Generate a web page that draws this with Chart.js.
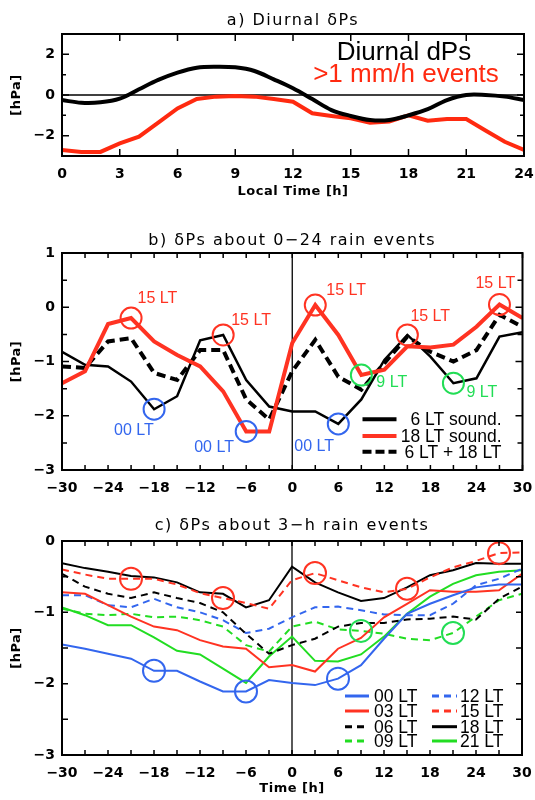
<!DOCTYPE html>
<html>
<head>
<meta charset="utf-8">
<script src="https://cdn.jsdelivr.net/npm/chart.js@4.4.1/dist/chart.umd.min.js"></script>
<style>
  body { margin: 0; background: #fff; width: 535px; height: 800px; overflow: hidden; position: relative; }
  canvas { position: absolute; left: 0; }
</style>
</head>
<body>
<canvas id="panelA" width="535" height="210" style="top:0px"></canvas>
<canvas id="panelB" width="535" height="295" style="top:210px"></canvas>
<canvas id="panelC" width="535" height="295" style="top:505px"></canvas>
<script>
// ---------- data: a) diurnal dPs ----------
const localHours = [0, 1, 2, 3, 4, 5, 6, 7, 8, 9, 10, 11, 12, 13, 14, 15, 16, 17, 18, 19, 20, 21, 22, 23, 24];
const diurnalDPs = [-0.25, -0.38, -0.36, -0.18, 0.28, 0.74, 1.1, 1.34, 1.39, 1.36, 1.18, 0.77, 0.33,
  -0.2, -0.74, -1.03, -1.23, -1.23, -1.0, -0.7, -0.25, 0.0, 0.0, -0.08, -0.25];
const rainEventDPs = [-2.7, -2.8, -2.8, -2.38, -2.05, -1.36, -0.66, -0.2, -0.08, -0.05, -0.08, -0.2, -0.33,
  -0.9, -1.03, -1.15, -1.36, -1.3, -1.0, -1.26, -1.18, -1.18, -1.75, -2.3, -2.7];
const hourTicksA = [0, 3, 6, 9, 12, 15, 18, 21, 24];
const pressTicksA = [-2, 0, 2];

// ---------- data: b) dPs about 0-24 rain events ----------
const lagHours = [-30, -27, -24, -21, -18, -15, -12, -9, -6, -3, 0, 3, 6, 9, 12, 15, 18, 21, 24, 27, 30];
const sound6 = [-0.82, -1.06, -1.09, -1.37, -1.88, -1.64, -0.61, -0.51, -1.34, -1.83, -1.92, -1.92, -2.15,
  -1.7, -0.97, -0.51, -0.91, -1.4, -1.31, -0.54, -0.46];
const sound18 = [-1.4, -1.18, -0.31, -0.2, -0.63, -0.88, -1.09, -1.55, -2.29, -2.29, -0.66, 0.04, -0.51,
  -1.25, -1.15, -0.72, -0.74, -0.69, -0.36, 0.05, -0.2];
const sound6and18 = [-1.09, -1.12, -0.63, -0.57, -1.21, -1.34, -0.79, -0.79, -1.7, -2.07, -1.18, -0.6, -1.28,
  -1.52, -1.03, -0.54, -0.82, -1.0, -0.79, -0.14, -0.36];
// circled points: lag hour + which sounding series it sits on
const peak15Lags = [-21, -9, 3, 15, 27];
const peak15On = ['s18', 's6', 's18', 's6', 's18'];
const low00Lags = [-18, -6, 6];
const low00On = ['s6', 's18', 's6'];
const mark9Lags = [9, 21];
const mark9On = ['s18', 's6'];
const lagTicks = [-30, -24, -18, -12, -6, 0, 6, 12, 18, 24, 30];
const pressTicksB = [-3, -2, -1, 0, 1];

// ---------- data: c) dPs about 3-h rain events ----------
const c00 = [-1.45, -1.51, -1.58, -1.65, -1.82, -1.82, -1.97, -2.11, -2.11, -1.95, -1.99, -2.02, -1.93,
  -1.74, -1.37, -1.02, -0.88, -0.76, -0.65, -0.61, -0.61];
const c03 = [-0.72, -0.74, -0.9, -1.06, -1.2, -1.25, -1.39, -1.48, -1.51, -1.77, -1.74, -1.83, -1.51,
  -1.36, -1.07, -0.88, -0.69, -0.71, -0.71, -0.69, -0.46];
const c06 = [-0.46, -0.64, -0.74, -0.8, -0.72, -0.8, -0.87, -1.0, -1.3, -1.58, -1.46, -1.37, -1.2,
  -1.15, -1.15, -1.1, -1.09, -1.06, -1.1, -0.81, -0.64];
const c09 = [-0.95, -1.02, -1.04, -1.02, -1.07, -1.06, -1.11, -1.2, -1.46, -1.55, -1.2, -1.13, -1.24,
  -1.26, -1.3, -1.37, -1.39, -1.29, -1.06, -0.83, -0.74];
const c12 = [-0.76, -0.76, -0.9, -0.93, -0.81, -0.93, -1.0, -1.11, -1.29, -1.23, -1.07, -0.93, -0.92,
  -0.97, -1.03, -1.04, -1.04, -0.88, -0.62, -0.53, -0.39];
const c15 = [-0.4, -0.47, -0.53, -0.53, -0.53, -0.61, -0.73, -0.8, -0.87, -0.95, -0.55, -0.45, -0.55,
  -0.65, -0.72, -0.67, -0.51, -0.37, -0.28, -0.17, -0.16];
const c18 = [-0.31, -0.38, -0.43, -0.49, -0.51, -0.58, -0.72, -0.74, -0.93, -0.83, -0.36, -0.58, -0.72,
  -0.84, -0.8, -0.65, -0.48, -0.41, -0.31, -0.32, -0.32];
const c21 = [-0.93, -1.04, -1.18, -1.18, -1.35, -1.54, -1.59, -1.79, -1.99, -1.62, -1.34, -1.68, -1.69,
  -1.59, -1.34, -1.02, -0.78, -0.6, -0.48, -0.43, -0.41];
const c15Marks = [-21, -9, 3, 15, 27];
const c00Marks = [-18, -6, 6];
const c09Marks = [9, 21];
const pressTicksC = [-3, -2, -1, 0];

// ---------- styles ----------
const RED = '#ff3322';
const BLUE = '#3366ee';
const GREEN = '#22dd22';
const GREEN_MARK = '#22dd55';
const TICK_FONT = { family: 'DejaVu Sans', size: 14, weight: 'bold' };
const LEGEND_FONT = '17.5px "Liberation Sans", Arial, sans-serif';

const pts = (xs, ys) => xs.map((x, i) => ({ x, y: ys[i] }));
const at = (series, lags) => lags.map(l => ({ x: l, y: series[lagHours.indexOf(l)] }));
const minus = v => String(v).replace('-', '\u2212');
const range = (a, b, s) => { const r = []; for (let v = a; v <= b + 1e-9; v += s) r.push(+v.toFixed(2)); return r; };

function line(label, data, color, width, dash, tension) {
  return { label, data, borderColor: color, borderWidth: width, borderDash: dash || [],
    pointRadius: 0, tension: tension || 0, fill: false };
}
function rings(data, color, r) {
  return { data, showLine: false, borderColor: color, pointBorderColor: color, pointBorderWidth: 2,
    pointBackgroundColor: 'rgba(0,0,0,0)', pointRadius: r, pointHoverRadius: r, clip: false };
}

// frame, inward ticks, titles, reference lines, notes, legend
function makeFrame(cfg) {
  return {
    id: 'frame',
    beforeDatasetsDraw(chart) {
      const { ctx, chartArea: a, scales: { x, y } } = chart;
      ctx.save();
      ctx.strokeStyle = '#000';
      ctx.lineWidth = 1.3;
      ctx.beginPath();
      if (cfg.zero === 'x') { const px = x.getPixelForValue(0); ctx.moveTo(px, a.top); ctx.lineTo(px, a.bottom); }
      if (cfg.zero === 'y') { const py = y.getPixelForValue(0); ctx.moveTo(a.left, py); ctx.lineTo(a.right, py); }
      ctx.stroke();
      ctx.restore();
    },
    afterDraw(chart) {
      const { ctx, chartArea: a, scales: { x, y } } = chart;
      ctx.save();
      ctx.strokeStyle = '#000';
      ctx.lineWidth = 1.5;
      ctx.beginPath();
      cfg.xMarks.forEach(([v, len]) => {
        const px = x.getPixelForValue(v);
        ctx.moveTo(px, a.bottom); ctx.lineTo(px, a.bottom - len);
        ctx.moveTo(px, a.top); ctx.lineTo(px, a.top + len);
      });
      cfg.yMarks.forEach(([v, len]) => {
        const py = y.getPixelForValue(v);
        ctx.moveTo(a.left, py); ctx.lineTo(a.left + len, py);
        ctx.moveTo(a.right, py); ctx.lineTo(a.right - len, py);
      });
      ctx.stroke();
      ctx.lineWidth = 2;
      ctx.strokeRect(a.left, a.top, a.right - a.left, a.bottom - a.top);

      const cx = (a.left + a.right) / 2;
      ctx.fillStyle = '#000';
      ctx.textAlign = 'center';
      ctx.textBaseline = 'middle';
      ctx.font = '16px "DejaVu Sans"';
      ctx.letterSpacing = '1.5px';
      ctx.fillText(cfg.title, cx, a.top - cfg.titleGap);
      ctx.font = 'bold 13px "DejaVu Sans"';
      ctx.letterSpacing = '0.5px';
      if (cfg.xTitle) ctx.fillText(cfg.xTitle, cx, a.bottom + cfg.xTitleGap);
      ctx.save();
      ctx.translate(17, (a.top + a.bottom) / 2);
      ctx.rotate(-Math.PI / 2);
      ctx.fillText('[hPa]', 0, 0);
      ctx.restore();
      ctx.letterSpacing = '0px';

      (cfg.notes || []).forEach(n => {
        ctx.font = n.font || '16px "Liberation Sans", Arial, sans-serif';
        ctx.fillStyle = n.color;
        ctx.textAlign = n.align || 'left';
        ctx.fillText(n.text, x.getPixelForValue(n.x) + n.dx, y.getPixelForValue(n.y) + n.dy);
      });
      (cfg.texts || []).forEach(t => {
        ctx.font = t.font;
        ctx.fillStyle = t.color;
        ctx.textAlign = 'center';
        ctx.fillText(t.text, a.right + t.rx, a.top + t.ry);
      });
      (cfg.legend || []).forEach(it => {
        const ly = a.bottom + it.ry;
        ctx.strokeStyle = it.color;
        ctx.lineWidth = it.width;
        ctx.setLineDash(it.dash || []);
        ctx.beginPath();
        ctx.moveTo(a.right + it.x0, ly); ctx.lineTo(a.right + it.x1, ly);
        ctx.stroke();
        ctx.setLineDash([]);
        ctx.font = LEGEND_FONT;
        ctx.fillStyle = '#000';
        ctx.textAlign = it.align;
        ctx.fillText(it.label, a.right + it.tx, ly + 1);
      });
      ctx.restore();
    }
  };
}

function scales(xr, xt, yr, yt, yWidth, xHeight) {
  return {
    x: {
      type: 'linear', min: xr[0], max: xr[1],
      grid: { display: false, drawTicks: false }, border: { display: false },
      afterBuildTicks: s => { s.ticks = xt.map(v => ({ value: v })); },
      afterFit: s => { s.height = xHeight; s.paddingLeft = 0; s.paddingRight = 0; },
      ticks: { autoSkip: false, maxRotation: 0, padding: 9.5, color: '#000', font: TICK_FONT, callback: minus }
    },
    y: {
      min: yr[0], max: yr[1],
      grid: { display: false, drawTicks: false }, border: { display: false },
      afterBuildTicks: s => { s.ticks = yt.map(v => ({ value: v })); },
      afterFit: s => { s.width = yWidth; s.paddingTop = 0; s.paddingBottom = 0; },
      ticks: { padding: 7, color: '#000', font: TICK_FONT, callback: minus }
    }
  };
}

const common = (padTop, padRight) => ({
  responsive: false, animation: false, devicePixelRatio: 1,
  layout: { padding: { top: padTop, right: padRight, left: 0, bottom: 0 } },
  plugins: { legend: { display: false }, tooltip: { enabled: false } }
});

// ---------- panel a ----------
new Chart(document.getElementById('panelA'), {
  type: 'line',
  data: { datasets: [
    line('Diurnal dPs', pts(localHours, diurnalDPs), '#000', 4, null, 0.35),
    line('>1 mm/h events', pts(localHours, rainEventDPs), '#ff2a10', 4)
  ] },
  options: { ...common(34, 11), scales: scales([0, 24], hourTicksA, [-3, 3], pressTicksA, 62, 54) },
  plugins: [makeFrame({
    title: 'a) Diurnal \u03b4Ps', titleGap: 13.3, xTitle: 'Local Time [h]', xTitleGap: 35.7, zero: 'y',
    xMarks: hourTicksA.map(v => [v, 7]),
    yMarks: range(-3, 3, 1).map(v => [v, pressTicksA.includes(v) ? 7 : 4]),
    texts: [
      { text: 'Diurnal dPs', color: '#000', font: '26px "Liberation Sans", Arial, sans-serif', rx: -120, ry: 19.3 },
      { text: '>1 mm/h events', color: '#ff2a10', font: '26px "Liberation Sans", Arial, sans-serif', rx: -118, ry: 41 }
    ]
  })]
});

// ---------- panel b ----------
const bSeries = { s6: sound6, s18: sound18 };
const onSeries = (lags, on) => lags.map((l, i) => ({ x: l, y: bSeries[on[i]][lagHours.indexOf(l)] }));
const ring15 = onSeries(peak15Lags, peak15On);
const ring00 = onSeries(low00Lags, low00On);
const ring9 = onSeries(mark9Lags, mark9On);
const off15 = [[6.5, -19.5], [8, -14.5], [11, -14.5], [3, -18.5], [-24, -20.5]];
const off00 = [[-40, 21.5], [-52, 16], [-44, 22.5]];
const off9 = [[15, 7.5], [13, 9.5]];
const noteB = [
  ...ring15.map((p, i) => ({ ...p, text: '15 LT', color: RED, dx: off15[i][0], dy: off15[i][1] })),
  ...ring00.map((p, i) => ({ ...p, text: '00 LT', color: BLUE, dx: off00[i][0], dy: off00[i][1] })),
  ...ring9.map((p, i) => ({ ...p, text: '9 LT', color: GREEN_MARK, dx: off9[i][0], dy: off9[i][1] }))
];

new Chart(document.getElementById('panelB'), {
  type: 'line',
  data: { datasets: [
    rings(ring15, RED, 10.5),
    rings(ring00, BLUE, 10.5),
    rings(ring9, GREEN_MARK, 10.5),
    line('18 LT sound.', pts(lagHours, sound18), RED, 4),
    line('6 LT + 18 LT', pts(lagHours, sound6and18), '#000', 4, [9, 5]),
    line('6 LT sound.', pts(lagHours, sound6), '#000', 2.5)
  ] },
  options: { ...common(43, 10), scales: scales([-30, 30], lagTicks, [-3, 1], pressTicksB, 62, 35) },
  plugins: [makeFrame({
    title: 'b) \u03b4Ps about 0\u221224 rain events', titleGap: 12.3, zero: 'x',
    xMarks: range(-30, 30, 3).map(v => [v, 5]),
    yMarks: range(-3, 1, 0.5).map(v => [v, Number.isInteger(v) ? 7 : 5]),
    notes: noteB,
    legend: [
      { label: '6 LT sound.', color: '#000', width: 4, x0: -160, x1: -126, tx: -21, align: 'right', ry: -50.7 },
      { label: '18 LT sound.', color: RED, width: 4, x0: -160, x1: -126, tx: -21, align: 'right', ry: -34 },
      { label: '6 LT + 18 LT', color: '#000', width: 4, dash: [9, 4], x0: -160, x1: -126, tx: -21, align: 'right', ry: -18.3 }
    ]
  })]
});

// ---------- panel c ----------
new Chart(document.getElementById('panelC'), {
  type: 'line',
  data: { datasets: [
    rings(at(c15, c15Marks), RED, 11),
    rings(at(c00, c00Marks), BLUE, 11),
    rings(at(c09, c09Marks), GREEN_MARK, 11),
    line('00 LT', pts(lagHours, c00), BLUE, 2),
    line('03 LT', pts(lagHours, c03), RED, 2),
    line('06 LT', pts(lagHours, c06), '#000', 2, [7, 5]),
    line('09 LT', pts(lagHours, c09), GREEN, 2, [7, 5]),
    line('12 LT', pts(lagHours, c12), BLUE, 2, [7, 5]),
    line('15 LT', pts(lagHours, c15), RED, 2, [7, 5]),
    line('18 LT', pts(lagHours, c18), '#000', 2),
    line('21 LT', pts(lagHours, c21), GREEN, 2)
  ] },
  options: { ...common(36, 10), scales: scales([-30, 30], lagTicks, [-3, 0], pressTicksC, 62, 45) },
  plugins: [makeFrame({
    title: 'c) \u03b4Ps about 3\u2212h rain events', titleGap: 15, xTitle: 'Time [h]', xTitleGap: 34, zero: 'x',
    xMarks: range(-30, 30, 3).map(v => [v, 5]),
    yMarks: range(-3, 0, 0.5).map(v => [v, 6]),
    legend: [
      { label: '00 LT', color: BLUE, width: 3, x0: -177, x1: -153, tx: -148, align: 'left', ry: -59 },
      { label: '03 LT', color: RED, width: 3, x0: -177, x1: -153, tx: -148, align: 'left', ry: -44 },
      { label: '06 LT', color: '#000', width: 3, dash: [7, 5], x0: -177, x1: -153, tx: -148, align: 'left', ry: -28.3 },
      { label: '09 LT', color: GREEN, width: 3, dash: [7, 5], x0: -177, x1: -153, tx: -148, align: 'left', ry: -14 },
      { label: '12 LT', color: BLUE, width: 3, dash: [7, 5], x0: -90, x1: -65, tx: -62, align: 'left', ry: -59 },
      { label: '15 LT', color: RED, width: 3, dash: [7, 5], x0: -90, x1: -65, tx: -62, align: 'left', ry: -44 },
      { label: '18 LT', color: '#000', width: 3, x0: -90, x1: -65, tx: -62, align: 'left', ry: -28.3 },
      { label: '21 LT', color: GREEN, width: 3, x0: -90, x1: -65, tx: -62, align: 'left', ry: -14 }
    ]
  })]
});
</script>
</body>
</html>
